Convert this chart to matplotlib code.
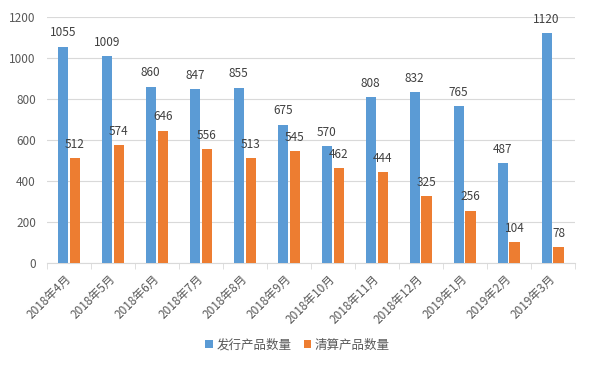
import numpy as np
import matplotlib
matplotlib.use('Agg')
import matplotlib.pyplot as plt

plt.rcParams['font.family'] = ['Noto Sans CJK SC', 'DejaVu Sans']

months = ['2018年4月', '2018年5月', '2018年6月', '2018年7月', '2018年8月', '2018年9月',
          '2018年10月', '2018年11月', '2018年12月', '2019年1月', '2019年2月', '2019年3月']
issued = [1055, 1009, 860, 847, 855, 675, 570, 808, 832, 765, 487, 1120]
cleared = [512, 574, 646, 556, 513, 545, 462, 444, 325, 256, 104, 78]

blue = '#5B9BD5'
orange = '#ED7D31'
txt = '#595959'

fig = plt.figure(figsize=(5.95, 3.66), dpi=100)
ax = fig.add_axes([0.079, 0.281, 0.887, 0.673])

x = np.arange(len(months))
w = 0.23
b1 = ax.bar(x - 0.14, issued, w, color=blue, label='发行产品数量', zorder=3)
b2 = ax.bar(x + 0.13, cleared, w, color=orange, label='清算产品数量', zorder=3)

for rect, v in zip(b1, issued):
    ax.text(rect.get_x() + rect.get_width() / 2, v + 35, str(v),
            ha='center', va='bottom', fontsize=8.5, color='#404040')
for rect, v in zip(b2, cleared):
    ax.text(rect.get_x() + rect.get_width() / 2, v + 35, str(v),
            ha='center', va='bottom', fontsize=8.5, color='#404040')

ax.set_xlim(-0.5, len(months) - 0.5)
ax.set_ylim(0, 1200)
ax.set_yticks(range(0, 1201, 200))
ax.grid(axis='y', color='#D9D9D9', lw=0.8, zorder=0)

for s in ['top', 'right', 'left']:
    ax.spines[s].set_visible(False)
ax.spines['bottom'].set_color('#D9D9D9')

ax.set_xticks(x)
ax.set_xticklabels(months, rotation=45, ha='right', va='center', rotation_mode='anchor',
                   fontsize=8.5, color=txt)
ax.tick_params(axis='x', length=0, pad=10)
ax.set_xticks(np.arange(-0.5, len(months)), minor=True)
ax.tick_params(axis='x', which='minor', length=4, color='#D9D9D9')
ax.tick_params(axis='y', length=0, labelsize=8.5, labelcolor=txt, pad=8)

h, l = ax.get_legend_handles_labels()
leg = fig.legend(h, l, loc='center', bbox_to_anchor=(0.5, 1 - 345 / 366), ncol=2,
                 frameon=False, fontsize=9, handlelength=0.6, handleheight=0.6,
                 handletextpad=0.3, columnspacing=1.0)
for t in leg.get_texts():
    t.set_color(txt)

fig.savefig('out.png', dpi=100)
